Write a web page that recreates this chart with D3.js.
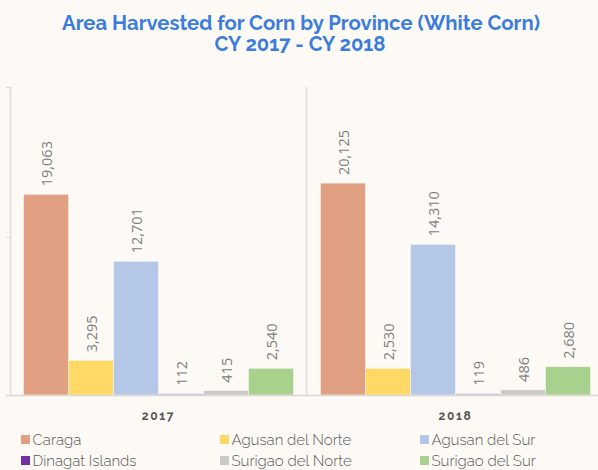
<!DOCTYPE html>
<html><head><meta charset="utf-8">
<script src="https://cdn.jsdelivr.net/npm/d3@7"></script>
<style>
html,body{margin:0;padding:0;background:#fdf9f5;}
svg{display:block;}
</style></head>
<body>
<script>
const years = ["2017", "2018"];
const provinces = ["Caraga", "Agusan del Norte", "Agusan del Sur", "Dinagat Islands", "Surigao del Norte", "Surigao del Sur"];
const values2017 = [19063, 3295, 12701, 112, 415, 2540];
const values2018 = [20125, 2530, 14310, 119, 486, 2680];
const colors = ["#e2a082", "#ffd966", "#b4c7e7", "#7030a0", "#c9c9c9", "#a9d18e"];
const barColors = ["#e2a082", "#ffd966", "#b4c7e7", "#c2a6d8", "#c9c9c9", "#a9d18e"];
const yTicks = [15000];

const W = 598, H = 470;
const svg = d3.select("body").append("svg").attr("width", W).attr("height", H);
svg.append("rect").attr("width", W).attr("height", H).attr("fill", "#fdf9f5");

// title
const title = svg.append("text").attr("text-anchor", "middle")
  .attr("font-family", "Raleway, Lato, 'Open Sans', sans-serif").attr("font-weight", 700)
  .attr("font-size", 19.5).attr("fill", "#3a7ddd");
title.append("tspan").attr("x", 301).attr("y", 30).attr("textLength", 478).attr("lengthAdjust", "spacingAndGlyphs").text("Area Harvested for Corn by Province (White Corn)");
title.append("tspan").attr("x", 300).attr("y", 51).attr("textLength", 171).attr("lengthAdjust", "spacingAndGlyphs").text("CY 2017 - CY 2018");

const data = years.map((y, i) => ({year: y, values: i === 0 ? values2017 : values2018}));

const x0 = d3.scaleBand().domain(years).range([10, 604]).paddingInner(0).paddingOuter(0);
const x1 = d3.scaleBand().domain(provinces).range([13.5, x0.bandwidth() - 13.5]).padding(0);
const y = d3.scaleLinear().domain([0, 29250]).range([395, 87]);

// axis line & tick
const yAxis = d3.axisLeft(y).tickValues(yTicks).tickSize(4).tickFormat("");
const ya = svg.append("g").attr("transform", "translate(10,0)").call(yAxis);
ya.select(".domain").attr("stroke", "#dedad7").attr("stroke-width", 1.5);
ya.selectAll(".tick line").attr("stroke", "#dedad7").attr("stroke-width", 1);

// separator
svg.append("line").attr("x1", x0("2018") - 0.5).attr("x2", x0("2018") - 0.5).attr("y1", y.range()[1]).attr("y2", 395)
  .attr("stroke", "#dedad7").attr("stroke-width", 1.5);

const groups = svg.append("g").selectAll("g").data(data).join("g")
  .attr("transform", d => `translate(${x0(d.year)},0)`);

groups.selectAll("rect").data(d => d.values.map((v, i) => ({v, i, p: provinces[i]}))).join("rect")
  .attr("x", d => x1(d.p)).attr("width", x1.bandwidth())
  .attr("y", d => Math.min(y(d.v), 393.5)).attr("height", d => Math.max(395 - y(d.v), 1.5))
  .attr("fill", d => barColors[d.i]).attr("stroke", "#fdf9f5").attr("stroke-width", 0.5);

groups.selectAll("text").data(d => d.values.map((v, i) => ({v, i, p: provinces[i]}))).join("text")
  .attr("transform", d => `translate(${x1(d.p) + x1.bandwidth() / 2 + 1},${y(d.v) - 8}) rotate(-90)`)
  .attr("dy", "0.35em")
  .attr("font-family", "'Open Sans', 'Noto Sans', sans-serif").attr("font-size", 14.5)
  .attr("fill", "#7f7f7f").text(d => d3.format(",")(d.v));

// baseline
svg.append("line").attr("x1", 10).attr("x2", W).attr("y1", 395.5).attr("y2", 395.5)
  .attr("stroke", "#d9d6d3").attr("stroke-width", 1.5);

// x axis labels
const xAxis = d3.axisBottom(x0).tickSize(0).tickPadding(0);
const xa = svg.append("g").attr("transform", "translate(0,411)").call(xAxis);
xa.select(".domain").remove();
xa.selectAll("text").attr("font-family", "Raleway, Lato, 'Open Sans', sans-serif").attr("font-weight", 700)
  .attr("font-size", 12).attr("letter-spacing", 1.7).attr("fill", "#555555");

// legend
const legCols = [21, 220, 420];
const leg = svg.append("g").selectAll("g").data(provinces).join("g")
  .attr("transform", (d, i) => `translate(${legCols[i % 3]},${i < 3 ? 435 : 456})`);
leg.append("rect").attr("width", 9).attr("height", 9).attr("fill", (d, i) => colors[i]);
leg.append("text").attr("x", 11.5).attr("y", 9.5)
  .attr("font-family", "Raleway, Lato, 'Open Sans', sans-serif").attr("font-weight", 300)
  .attr("font-size", 15).attr("fill", "#595959").text(d => d);
</script>
</body></html>
